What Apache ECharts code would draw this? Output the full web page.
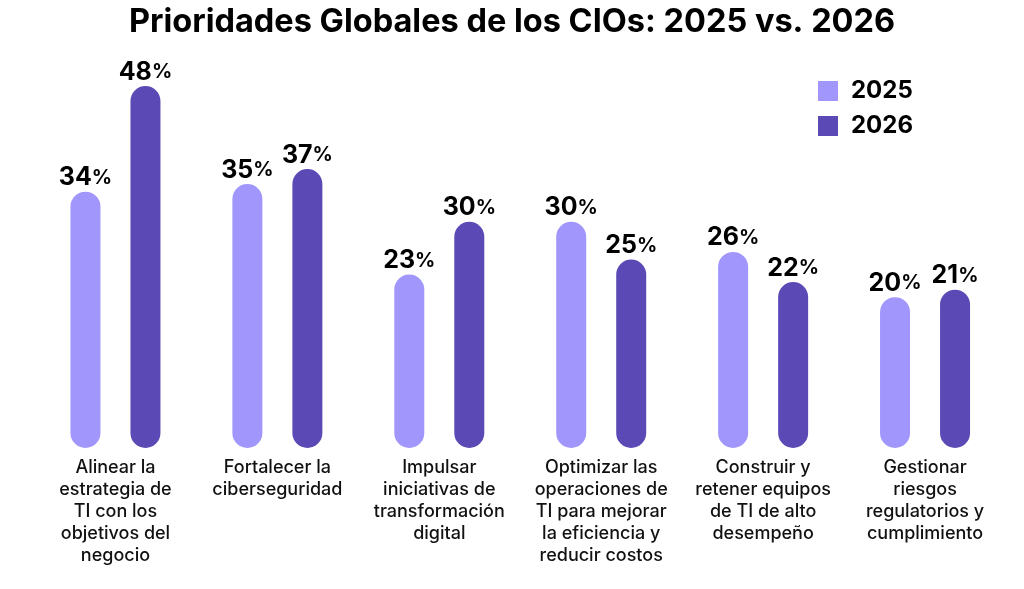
<!DOCTYPE html>
<html><head><meta charset="utf-8">
<script src="https://cdn.jsdelivr.net/npm/echarts@6/dist/echarts.min.js"></script>
<style>html,body{margin:0;padding:0;background:#fff}#c{width:1024px;height:589px}</style>
</head><body><div id="c"></div>
<script>
const categories = [
  "Alinear la\nestrategia de\nTI con los\nobjetivos del\nnegocio",
  "Fortalecer la\nciberseguridad",
  "Impulsar\niniciativas de\ntransformación\ndigital",
  "Optimizar las\noperaciones de\nTI para mejorar\nla eficiencia y\nreducir costos",
  "Construir y\nretener equipos\nde TI de alto\ndesempeño",
  "Gestionar\nriesgos\nregulatorios y\ncumplimiento"
];
const values2025 = [34, 35, 23, 30, 26, 20];
const values2026 = [48, 37, 30, 25, 22, 21];
const seriesNames = ["2025", "2026"];
const colors = ["#A196FC", "#5B4AB6"];

const labelCfg = {
  show: true, position: 'top', distance: 1.5,
  formatter: p => '{n|' + p.value + '}{p|%}',
  rich: {
    n: {fontFamily: 'Inter', fontWeight: 'bold', fontSize: 25, color: '#000'},
    p: {fontFamily: 'Inter', fontWeight: 'bold', fontSize: 20, color: '#000'}
  }
};
const chart = echarts.init(document.getElementById('c'));
chart.setOption({
  backgroundColor: '#fff',
  animation: false,
  title: {
    text: 'Prioridades Globales de los CIOs: 2025 vs. 2026',
    left: 'center', top: 1,
    textStyle: {fontFamily: 'Inter', fontWeight: 'bold', fontSize: 32.5, color: '#000'}
  },
  legend: {
    orient: 'vertical', left: 818, top: 79, padding: 0,
    itemWidth: 20, itemHeight: 20, itemGap: 11, icon: 'rect',
    data: seriesNames,
    textStyle: {fontFamily: 'Inter', fontWeight: 'bold', fontSize: 24, color: '#000', padding: [0, 0, 0, 8]}
  },
  grid: {left: 34.5, right: 18, top: 71, bottom: 141, containLabel: false},
  xAxis: {
    type: 'category', data: categories,
    axisLine: {show: false}, axisTick: {show: false},
    axisLabel: {interval: 0, margin: 9, fontFamily: 'Inter', fontWeight: 500, fontSize: 18, lineHeight: 22, color: '#111', align: 'center', verticalAlign: 'top'}
  },
  yAxis: {type: 'value', min: 0, max: 50, show: false, splitLine: {show: false}},
  series: [
    {name: seriesNames[0], type: 'bar', data: values2025, barWidth: 30, barGap: '100%',
     itemStyle: {color: colors[0], borderRadius: 15}, label: labelCfg},
    {name: seriesNames[1], type: 'bar', data: values2026, barWidth: 30, barGap: '100%',
     itemStyle: {color: colors[1], borderRadius: 15}, label: labelCfg}
  ]
});
</script></body></html>
